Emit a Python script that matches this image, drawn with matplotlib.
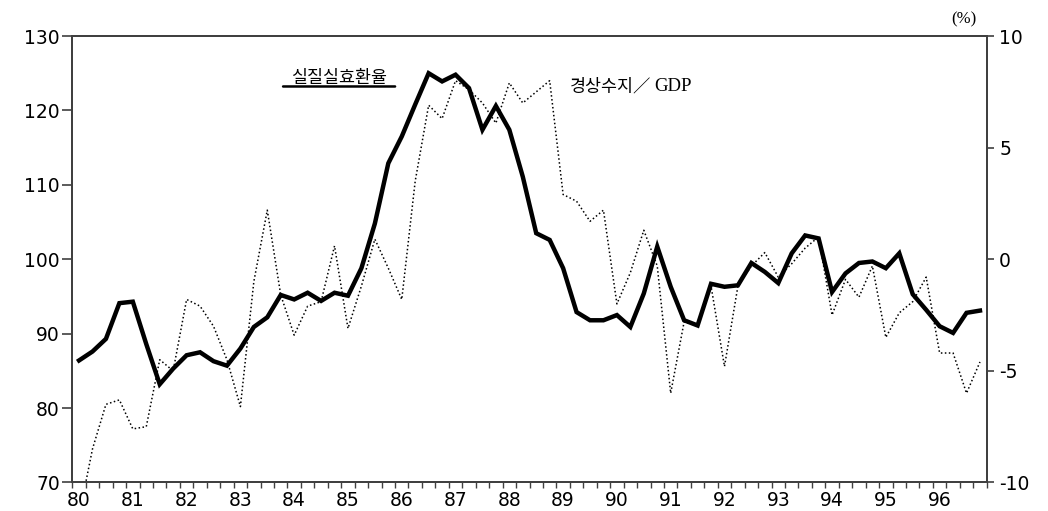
import matplotlib
matplotlib.use('Agg')
import matplotlib.pyplot as plt
from matplotlib.ticker import FixedLocator, MultipleLocator
import numpy as np

plt.rcParams['font.family'] = ['DejaVu Sans']
plt.rcParams['axes.unicode_minus'] = False

# quarterly data, 1980 Q1 - 1996 Q4
start_year = 1980
n_quarters = 68

# 실질실효환율 (left axis)
reer = [86.4, 87.6, 89.3, 94.1, 94.3, 88.6, 83.2, 85.3, 87.1, 87.5, 86.3, 85.7,
        88.0, 90.9, 92.2, 95.2, 94.6, 95.5, 94.4, 95.5, 95.1, 98.8, 104.8, 112.9,
        116.5, 120.8, 125.0, 123.9, 124.8, 123.0, 117.4, 120.6, 117.4, 111.1, 103.5, 102.6,
        98.8, 92.9, 91.8, 91.8, 92.5, 90.9, 95.4, 101.7, 96.3, 91.8, 91.1, 96.7,
        96.3, 96.5, 99.5, 98.3, 96.8, 100.8, 103.2, 102.8, 95.6, 98.1, 99.5, 99.7,
        98.8, 100.8, 95.3, 93.2, 91.0, 90.1, 92.8, 93.1]

# 경상수지/GDP (right axis, %)
ca_gdp = [-11.5, -8.5, -6.5, -6.3, -7.6, -7.5, -4.5, -5.0, -1.8, -2.1, -3.0, -4.5,
          -6.6, -1.0, 2.2, -1.6, -3.4, -2.1, -1.9, 0.6, -3.1, -1.2, 0.9, -0.4,
          -1.8, 3.5, 6.9, 6.3, 8.0, 7.6, 7.0, 6.1, 7.9, 7.0, 7.5, 8.0,
          2.9, 2.6, 1.7, 2.2, -2.0, -0.6, 1.3, -0.3, -6.0, -2.8, -3.0, -1.2,
          -4.8, -1.2, -0.3, 0.3, -0.8, -0.2, 0.5, 1.0, -2.5, -0.9, -1.7, -0.3,
          -3.5, -2.4, -1.9, -0.8, -4.2, -4.2, -6.0, -4.6]

year_labels = ['80', '81', '82', '83', '84', '85', '86', '87', '88',
               '89', '90', '91', '92', '93', '94', '95', '96']

x = start_year + np.arange(n_quarters) * 0.25 + 0.125

fig = plt.figure(figsize=(10.48, 5.11), dpi=100)
ax = fig.add_axes([0.069, 0.0558, 0.8725, 0.8737])
ax2 = ax.twinx()

ax.plot(x, reer, color='black', lw=3.2, solid_joinstyle='miter', zorder=3)
ax2.plot(x, ca_gdp, color='black', lw=1.1, linestyle=(0, (1, 1.6)), zorder=2)

ax.set_xlim(1980, 1997)
ax.set_ylim(70, 130)
ax2.set_ylim(-10, 10)

edge = '#404040'
for a in (ax, ax2):
    for s in a.spines.values():
        s.set_color(edge)
        s.set_linewidth(1.4)

ax.set_yticks([70, 80, 90, 100, 110, 120, 130])
ax.tick_params(axis='y', length=7, width=1.2, color=edge, pad=2, labelsize=13.5)
ax2.set_yticks([-10, -5, 0, 5, 10])
ax2.set_yticklabels(['-10', '-5', '0', '5', '10'])
ax2.tick_params(axis='y', length=5, width=1.2, color=edge, pad=4, labelsize=13.5)

ax.xaxis.set_major_locator(FixedLocator([start_year + i + 0.125 for i in range(len(year_labels))]))
ax.set_xticklabels(year_labels)
ax.xaxis.set_minor_locator(MultipleLocator(0.25))
ax.tick_params(axis='x', which='major', length=0, pad=6, labelsize=13.5)
ax.tick_params(axis='x', which='minor', length=4, width=1.0, color=edge)

# series labels
ax.text(0.2917, 0.906, '실질실효환율', transform=ax.transAxes, ha='center', va='center',
        fontsize=12.5, family=['Noto Sans CJK KR', 'DejaVu Sans'])
ax.annotate('', xy=(0.2305, 0.887), xytext=(0.353, 0.887), xycoords='axes fraction',
            arrowprops=dict(arrowstyle='-', lw=1.8, color='black', shrinkA=0, shrinkB=0))
ax.text(0.544, 0.886, '경상수지／', transform=ax.transAxes, ha='left', va='center',
        fontsize=12.5, family=['Noto Sans CJK KR', 'DejaVu Sans'])
ax.text(0.636, 0.886, 'GDP', transform=ax.transAxes, ha='left', va='center',
        fontsize=13.5, family=['Liberation Serif', 'DejaVu Serif'])

fig.text(0.92, 0.963, '(%)', ha='center', va='center', fontsize=12,
         family=['Liberation Serif', 'DejaVu Serif'])

fig.savefig('out.png', dpi=100)
